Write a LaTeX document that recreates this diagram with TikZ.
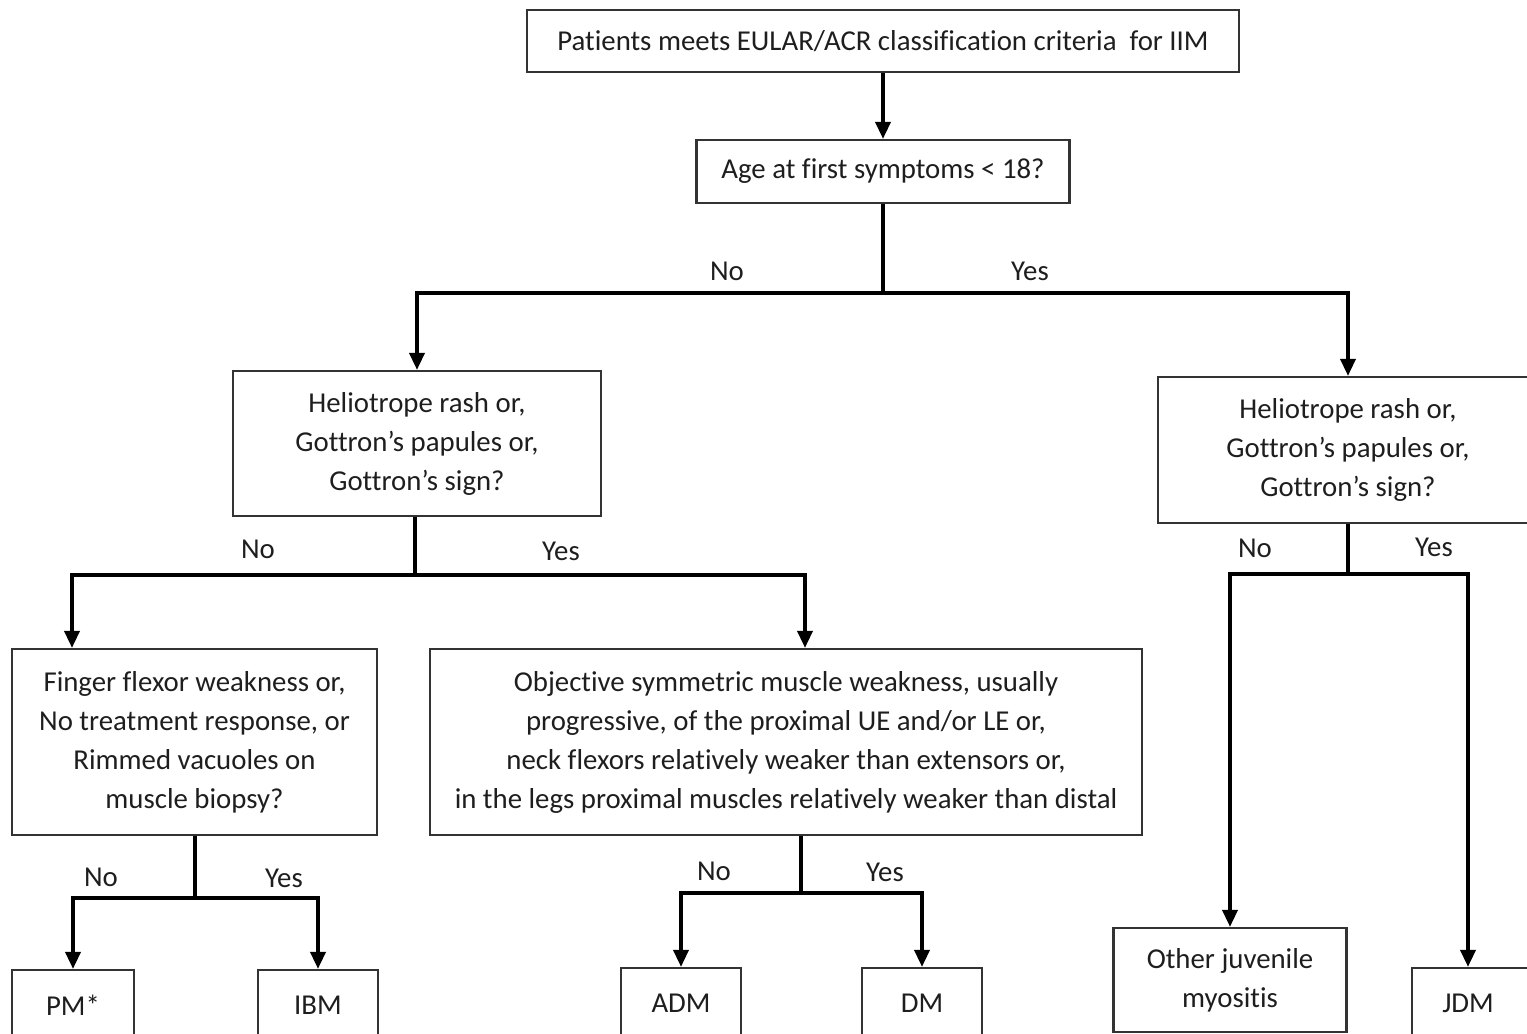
\documentclass[tikz,border=0pt]{standalone}
\usepackage{fontspec}
\setmainfont{Carlito}[Ligatures=CommonOff]
\usetikzlibrary{arrows.meta}
\definecolor{ink}{HTML}{1E1E1E}
\definecolor{edge}{HTML}{333333}
\begin{document}
\begin{tikzpicture}[x=0.5pt,y=-0.5pt,
  txt/.style={font=\fontsize{14.4pt}{19.5pt}\selectfont, text=ink},
  box/.style={txt, draw=edge, line width=1.1pt, inner sep=0pt, align=center, fill=white},
  lbl/.style={txt, inner sep=0pt},
  conn/.style={line width=1.8pt, draw=black},
  arr/.style={conn, -{Triangle[width=7.5pt,length=8.5pt]}}]
\useasboundingbox (0,0) rectangle (1527,1034);
\fill[white] (0,0) rectangle (1527,1034);
\clip (0,0) rectangle (1527,1034);

% boxes
\node[box, minimum width=356pt, minimum height=31pt] (top) at (883,41) {\raisebox{-1.5pt}{Patients meets EULAR/ACR classification criteria\ \ for IIM}};
\node[box, minimum width=186.5pt, minimum height=31.5pt] (age) at (883,171.5) {\raisebox{-1.5pt}{Age at first symptoms < 18?}};
\node[box, minimum width=184pt, minimum height=72.5pt] (lh) at (417,443.5) {Heliotrope rash or,\\Gottron’s papules or,\\Gottron’s sign?};
\node[box, minimum width=190pt, minimum height=73pt] (rh) at (1348,450) {Heliotrope rash or,\\Gottron’s papules or,\\Gottron’s sign?};
\node[box, minimum width=182.5pt, minimum height=93pt] (fin) at (194.5,742) {Finger flexor weakness or,\\No treatment response, or\\Rimmed vacuoles on\\muscle biopsy?};
\node[box, minimum width=356pt, minimum height=93pt] (obj) at (786,742) {Objective symmetric muscle weakness, usually\\progressive, of the proximal UE and/or LE or,\\neck flexors relatively weaker than extensors or,\\in the legs proximal muscles relatively weaker than distal};
\node[box, minimum width=61pt, minimum height=35pt] (pm) at (73,1005) {PM*};
\node[box, minimum width=60pt, minimum height=35pt] (ibm) at (318,1005) {IBM};
\node[box, minimum width=60pt, minimum height=35pt] (adm) at (681,1003) {ADM};
\node[box, minimum width=60pt, minimum height=35pt] (dm) at (922,1003) {DM};
\node[box, minimum width=116.5pt, minimum height=52pt] (oth) at (1230,980) {Other juvenile\\myositis};
\node[box, minimum width=64pt, minimum height=35pt, text width=56pt] (jdm) at (1476,1003) {\hspace*{-8pt}JDM};

% junctions
\coordinate (b1) at (883,293);
\coordinate (b2) at (415,575);
\coordinate (b3) at (195,898);
\coordinate (b4) at (801,893);
\coordinate (b5) at (1348,574);

% connectors
\draw[arr] (top.south) -- (age.north);
\draw[conn] (age.south) -- (b1);
\draw[arr] (b1) -| (lh.north);
\draw[arr] (b1) -| (rh.north);

\draw[conn] (lh.south -| b2) -- (b2);
\draw[arr] (b2) -| (72,0 |- fin.north);
\draw[arr] (b2) -| (805,0 |- obj.north);

\draw[conn] (b3 |- fin.south) -- (b3);
\draw[arr] (b3) -| (pm.north);
\draw[arr] (b3) -| (ibm.north);

\draw[conn] (b4 |- obj.south) -- (b4);
\draw[arr] (b4) -| (adm.north);
\draw[arr] (b4) -| (dm.north);

\draw[conn] (rh.south) -- (b5);
\draw[arr] (b5) -| (oth.north);
\draw[arr] (b5) -| (1468,0 |- jdm.north);

% labels
\node[lbl] (l1) at (727,271) {No};
\node[lbl] (l2) at (1030,271) {Yes};
\node[lbl] (l3) at (258,549) {No};
\node[lbl] (l4) at (561,551) {Yes};
\node[lbl] (l5) at (101,877) {No};
\node[lbl] (l6) at (284,878) {Yes};
\node[lbl] (l7) at (714,871) {No};
\node[lbl] (l8) at (885,872) {Yes};
\node[lbl] (l9) at (1255,548) {No};
\node[lbl] (l10) at (1434,547) {Yes};
\end{tikzpicture}
\end{document}
